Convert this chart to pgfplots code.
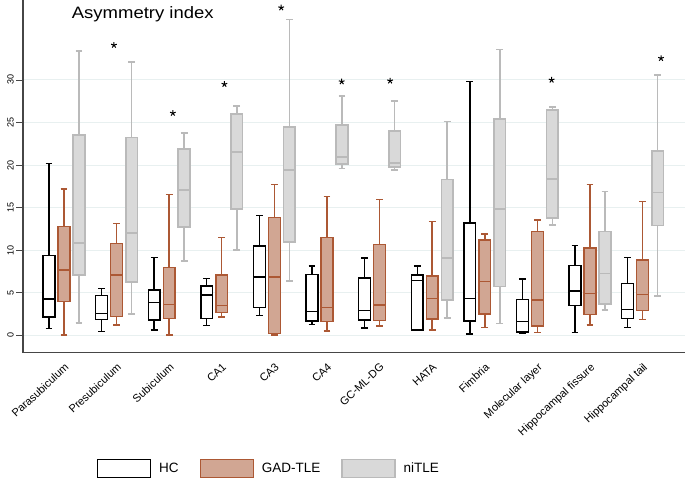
\documentclass[border=0pt]{standalone}
\usepackage{fontspec}
\setmainfont{Liberation Sans}
\usepackage{pgfplots}
\pgfplotsset{compat=1.18}
\usepgfplotslibrary{statistics}
\definecolor{gadfill}{RGB}{209,166,147}
\definecolor{gadedge}{RGB}{172,88,52}
\definecolor{nifill}{RGB}{217,217,217}
\definecolor{niedge}{RGB}{186,186,186}
\definecolor{gridc}{RGB}{232,240,240}
\definecolor{axisc}{RGB}{70,70,70}
% #1 style, #2 position, #3 lw, #4 q1, #5 med, #6 q3, #7 uw
\newcommand{\bx}[7]{\addplot[#1, boxplot prepared={draw direction=y, draw position=#2, lower whisker=#3, lower quartile=#4, median=#5, upper quartile=#6, upper whisker=#7, box extend=0.222, whisker extend=0.127}] coordinates {};}
\begin{document}
\begin{tikzpicture}
\begin{axis}[
  at={(0,0)}, anchor=south west,
  scale only axis, width=662bp, height=352.7bp,
  xmin=-0.779, xmax=11.806, ymin=-2.08, ymax=39.41,
  axis x line*=bottom, axis y line*=left,
  axis line style={-, draw=axisc, line width=1.1bp},
  xtick={0,...,11},
  xticklabels={Parasubiculum,Presubiculum,Subiculum,CA1,CA3,CA4,GC-ML-DG,HATA,Fimbria,Molecular layer,Hippocampal fissure,Hippocampal tail},
  xtick style={draw=none},
  xticklabel style={rotate=43, anchor=north east, font=\fontsize{11bp}{13bp}\selectfont, inner sep=0pt, yshift=-2bp, xshift=-2bp},
  ytick={0,5,...,30},
  yticklabel style={rotate=90, anchor=south, font=\fontsize{9bp}{11bp}\selectfont, inner sep=2.5bp},
  /pgf/number format/assume math mode=true,
  tick align=outside, major tick length=6.7bp,
  ytick style={draw=axisc, line width=0.9bp},
  ymajorgrids, major grid style={draw=gridc, line width=1bp},
  legend style={at={(rel axis cs:0.1118,-0.328)}, anchor=west, draw=none, fill=none, inner sep=0pt, outer sep=0pt,
    legend columns=3, font=\fontsize{13.5bp}{16bp}\selectfont,
    nodes={inner sep=0pt},
    /tikz/every odd column/.append style={column sep=8bp},
    /tikz/every even column/.append style={column sep=21bp}},
  legend image code/.code={\draw[#1, line width=1.2bp] (0bp,-9bp) rectangle (53bp,9bp);},
  clip=false,
]
\addlegendimage{draw=black, fill=white}
\addlegendentry{HC}
\addlegendimage{draw=gadedge, fill=gadfill}
\addlegendentry{GAD-TLE}
\addlegendimage{draw=niedge, fill=nifill}
\addlegendentry{niTLE}

\pgfplotsset{
  hcs/.style={draw=black, fill=white, line width=1.4bp, solid},
  gads/.style={draw=gadedge, fill=gadfill, line width=1.4bp, solid},
  nis/.style={draw=niedge, fill=nifill, line width=1.7bp, solid},
}
% Parasubiculum
\bx{hcs}{-0.285}{0.75}{2.12}{4.24}{9.33}{20.15}
\bx{gads}{0}{0}{3.92}{7.65}{12.75}{17.2}
\bx{nis}{0.285}{1.45}{7.02}{10.8}{23.5}{33.4}
% Presubiculum
\bx{hcs}{0.715}{0.39}{1.84}{2.55}{4.63}{5.49}
\bx{gads}{1}{1.18}{2.16}{7.06}{10.75}{13.1}
\bx{nis}{1.285}{2.47}{6.27}{11.96}{23.25}{32.1}
% Subiculum
\bx{hcs}{1.715}{0.59}{1.76}{3.8}{5.29}{9.1}
\bx{gads}{2}{0}{1.96}{3.61}{7.92}{16.5}
\bx{nis}{2.285}{8.7}{12.7}{17.06}{21.9}{23.8}
% CA1
\bx{hcs}{2.715}{1.14}{1.96}{4.7}{5.76}{6.63}
\bx{gads}{3}{2.12}{2.63}{3.49}{7.06}{11.5}
\bx{nis}{3.285}{10.0}{14.86}{21.5}{26.0}{26.9}
% CA3
\bx{hcs}{3.715}{2.31}{3.22}{6.82}{10.47}{14.08}
\bx{gads}{4}{0}{0.2}{6.82}{13.84}{17.7}
\bx{nis}{4.285}{6.35}{10.94}{19.45}{24.5}{37.1}
% CA4
\bx{hcs}{4.715}{1.22}{1.65}{2.78}{7.1}{8.12}
\bx{gads}{5}{0.47}{1.57}{3.25}{11.49}{16.27}
\bx{nis}{5.285}{19.6}{20.1}{20.98}{24.7}{28.1}
% GC-ML-DG
\bx{hcs}{5.715}{0.82}{1.76}{2.86}{6.7}{9.06}
\bx{gads}{6}{1.06}{1.69}{3.53}{10.67}{15.96}
\bx{nis}{6.285}{19.4}{19.8}{20.2}{24.0}{27.5}
% HATA
\bx{hcs}{6.715}{0.51}{0.59}{6.39}{7.06}{8.12}
\bx{gads}{7}{0.59}{1.88}{4.31}{6.94}{13.33}
\bx{nis}{7.285}{2.04}{4.12}{9.02}{18.3}{25.1}
% Fimbria
\bx{hcs}{7.715}{0.12}{1.65}{4.31}{13.2}{29.8}
\bx{gads}{8}{0.86}{2.47}{6.27}{11.18}{11.88}
\bx{nis}{8.285}{1.37}{5.69}{14.86}{25.45}{33.6}
% Molecular layer
\bx{hcs}{8.715}{0.2}{0.35}{1.57}{4.16}{6.59}
\bx{gads}{9}{0.27}{1.06}{4.12}{12.16}{13.53}
\bx{nis}{9.285}{12.94}{13.73}{18.35}{26.5}{26.8}
% Hippocampal fissure
\bx{hcs}{9.715}{0.27}{3.49}{5.18}{8.16}{10.51}
\bx{gads}{10}{1.18}{2.43}{4.9}{10.24}{17.73}
\bx{nis}{10.285}{2.94}{3.61}{7.25}{12.16}{16.9}
% Hippocampal tail
\bx{hcs}{10.715}{0.86}{1.96}{3.02}{6.08}{9.1}
\bx{gads}{11}{1.84}{2.86}{4.75}{8.82}{15.69}
\bx{nis}{11.285}{4.55}{12.9}{16.75}{21.65}{30.6}

% significance stars
\addplot[only marks, mark=star, mark size=3bp, mark options={line width=1bp, draw=black}] coordinates {
 (0.95,34.1) (2.07,26.1) (3.05,29.5) (4.13,38.5) (5.28,29.8) (6.2,29.9) (9.27,30.0) (11.35,32.55)};

\node[anchor=base west, font=\fontsize{16.5bp}{18bp}\selectfont, inner sep=0pt] at (rel axis cs:0.0736,0.948) {\scalebox{1.12}[1]{Asymmetry index}};
\end{axis}
\pgfresetboundingbox
\path[use as bounding box] (-23bp,-133.3bp) rectangle (662bp,352.7bp);
\end{tikzpicture}
\end{document}
